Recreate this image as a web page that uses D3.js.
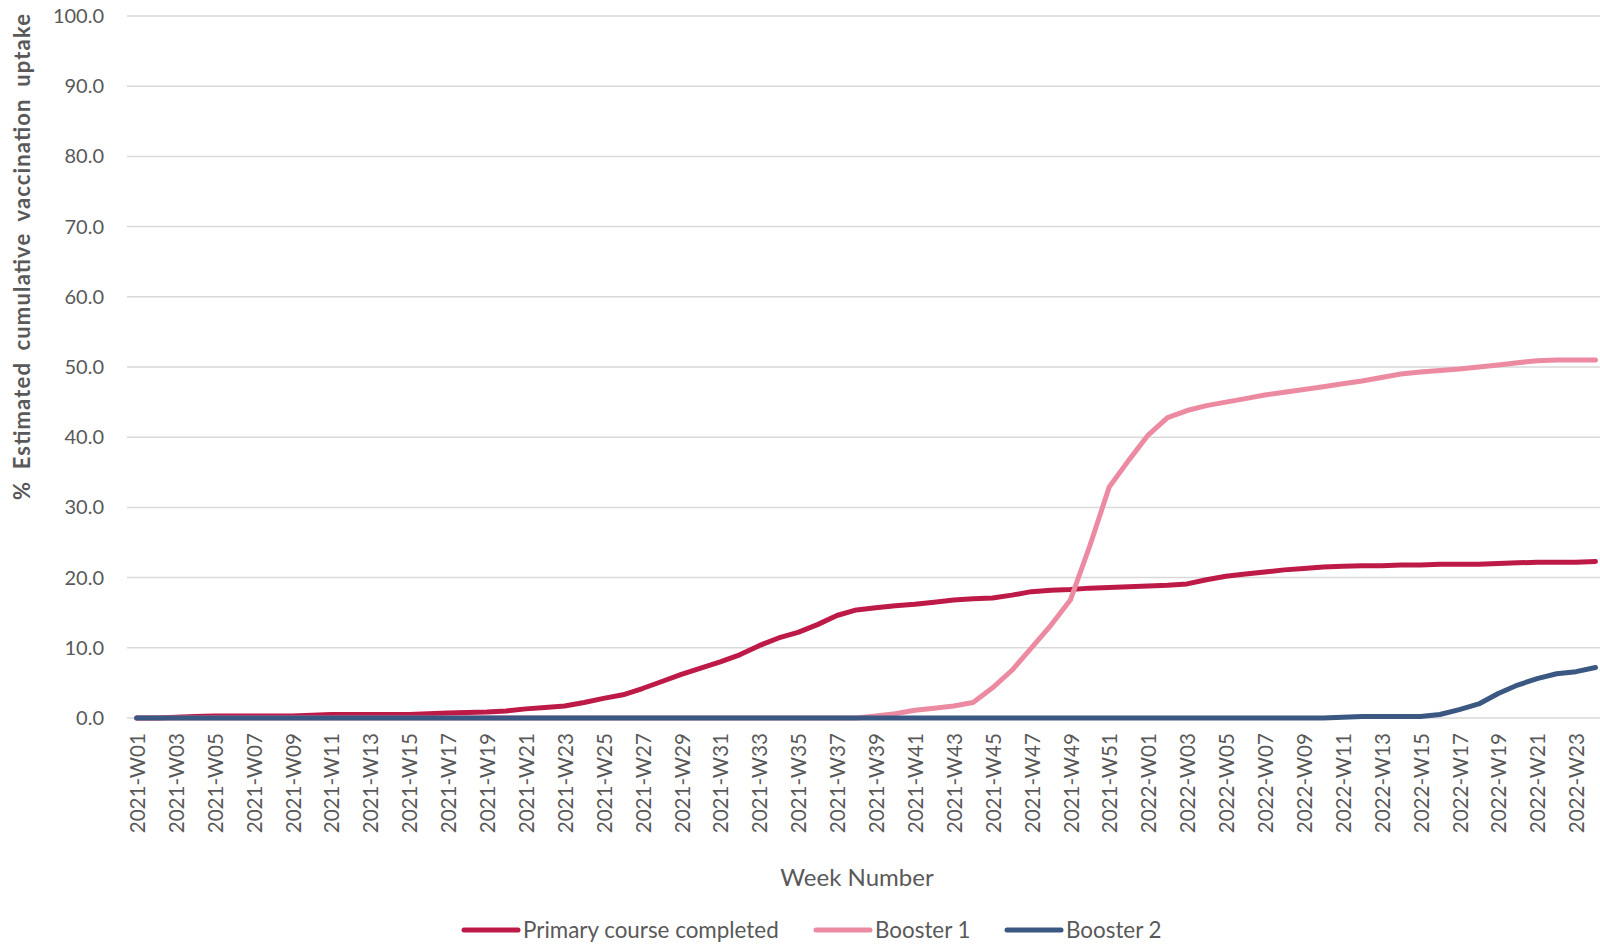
<!DOCTYPE html>
<html>
<head>
<meta charset="utf-8">
<script src="https://cdn.jsdelivr.net/npm/d3@7"></script>
<style>
body { margin: 0; background: #fff; }
text { font-family: Lato, "Open Sans", sans-serif; }
</style>
</head>
<body>
<script>
// weeks 2021-W01 .. 2022-W24
var weeks = [];
for (var w = 1; w <= 52; w++) weeks.push("2021-W" + (w < 10 ? "0" + w : w));
for (var w = 1; w <= 24; w++) weeks.push("2022-W" + (w < 10 ? "0" + w : w));

var primary = [0, 0, 0.1, 0.2, 0.3, 0.3, 0.3, 0.3, 0.3, 0.4,
  0.5, 0.5, 0.5, 0.5, 0.5, 0.6, 0.7, 0.8, 0.85, 1.0,
  1.3, 1.5, 1.7, 2.2, 2.8, 3.3, 4.2, 5.2, 6.2, 7.1,
  8.0, 9.0, 10.3, 11.4, 12.2, 13.3, 14.6, 15.4, 15.7, 16.0,
  16.2, 16.5, 16.8, 17.0, 17.1, 17.5, 18.0, 18.2, 18.3, 18.5,
  18.6, 18.7, 18.8, 18.9, 19.1, 19.7, 20.2, 20.5, 20.8, 21.1,
  21.3, 21.5, 21.6, 21.7, 21.7, 21.8, 21.8, 21.9, 21.9, 21.9,
  22.0, 22.1, 22.2, 22.2, 22.2, 22.3];

var booster1 = [0, 0, 0, 0, 0, 0, 0, 0, 0, 0,
  0, 0, 0, 0, 0, 0, 0, 0, 0, 0,
  0, 0, 0, 0, 0, 0, 0, 0, 0, 0,
  0, 0, 0, 0, 0, 0, 0, 0, 0.3, 0.6,
  1.1, 1.4, 1.7, 2.2, 4.3, 6.8, 10.0, 13.2, 16.8, 24.5,
  32.9, 36.7, 40.3, 42.8, 43.8, 44.5, 45.0, 45.5, 46.0, 46.4,
  46.8, 47.2, 47.6, 48.0, 48.5, 49.0, 49.3, 49.5, 49.7, 50.0,
  50.3, 50.6, 50.9, 51.0, 51.0, 51.0];

var booster2 = [0, 0, 0, 0, 0, 0, 0, 0, 0, 0,
  0, 0, 0, 0, 0, 0, 0, 0, 0, 0,
  0, 0, 0, 0, 0, 0, 0, 0, 0, 0,
  0, 0, 0, 0, 0, 0, 0, 0, 0, 0,
  0, 0, 0, 0, 0, 0, 0, 0, 0, 0,
  0, 0, 0, 0, 0, 0, 0, 0, 0, 0,
  0, 0, 0.1, 0.2, 0.2, 0.2, 0.2, 0.5, 1.2, 2.0,
  3.5, 4.7, 5.6, 6.3, 6.6, 7.2];

var seriesNames = ["Primary course completed", "Booster 1", "Booster 2"];
var seriesColors = ["#be1a48", "#ec8aa1", "#3b5883"];
var yTicks = [0, 10, 20, 30, 40, 50, 60, 70, 80, 90, 100];

var series = [primary, booster1, booster2];

var svg = d3.select("body").append("svg")
  .attr("width", 1600)
  .attr("height", 944);

var plotLeft = 127, plotTop = 16, plotBottom = 718;
var step = 19.45;

var xScale = d3.scaleBand().domain(weeks).range([plotLeft, plotLeft + step * weeks.length]);
var yScale = d3.scaleLinear().domain([0, 100]).range([plotBottom, plotTop]);

// gridlines
svg.append("g")
  .selectAll("line")
  .data(yTicks)
  .enter().append("line")
  .attr("x1", plotLeft).attr("x2", 1600)
  .attr("y1", function(d){ return yScale(d); })
  .attr("y2", function(d){ return yScale(d); })
  .attr("stroke", "#d9d9d9")
  .attr("stroke-width", 1.5);

// y axis labels
var yAxis = d3.axisLeft(yScale).tickValues(yTicks).tickFormat(d3.format(".1f")).tickSize(0).tickPadding(0);
var yAxisGroup = svg.append("g")
  .attr("transform", "translate(104,0)")
  .call(yAxis);
yAxisGroup.select(".domain").remove();
yAxisGroup.selectAll("text")
  .attr("fill", "#595959")
  .style("font-size", "20px");

// x axis labels, every other week
var xAxis = d3.axisBottom(xScale)
  .tickValues(weeks.filter(function(d, i){ return i % 2 == 0; }))
  .tickSize(0);
var xAxisGroup = svg.append("g")
  .attr("transform", "translate(0," + plotBottom + ")")
  .call(xAxis);
xAxisGroup.select(".domain").remove();
xAxisGroup.selectAll("text")
  .attr("fill", "#595959")
  .style("font-size", "20.6px")
  .attr("text-anchor", "end")
  .attr("transform", "rotate(-90)")
  .attr("x", -15)
  .attr("y", 1)
  .attr("dy", "0.35em");

// lines
var line = d3.line()
  .x(function(d, i){ return xScale(weeks[i]) + xScale.bandwidth() / 2; })
  .y(function(d){ return yScale(d); });

svg.append("g")
  .selectAll("path")
  .data(series)
  .enter().append("path")
  .attr("d", line)
  .attr("fill", "none")
  .attr("stroke", function(d, i){ return seriesColors[i]; })
  .attr("stroke-width", 5)
  .attr("stroke-linejoin", "round")
  .attr("stroke-linecap", "round");

// axis titles
svg.append("text")
  .attr("transform", "translate(30,257) rotate(-90)")
  .attr("text-anchor", "middle")
  .attr("fill", "#595959")
  .style("font-size", "22px")
  .style("font-weight", "bold")
  .style("word-spacing", "5px")
  .attr("textLength", 486)
  .attr("lengthAdjust", "spacing")
  .text("% Estimated cumulative vaccination uptake");

svg.append("text")
  .attr("x", 857)
  .attr("y", 886)
  .attr("text-anchor", "middle")
  .attr("fill", "#595959")
  .style("font-size", "24px")
  .text("Week Number");

// legend
var legendX = [464, 816, 1007];
var legend = svg.append("g")
  .selectAll("g")
  .data(seriesNames)
  .enter().append("g")
  .attr("transform", function(d, i){ return "translate(" + legendX[i] + ",930)"; });
legend.append("line")
  .attr("x1", 0).attr("x2", 54)
  .attr("stroke", function(d, i){ return seriesColors[i]; })
  .attr("stroke-width", 5)
  .attr("stroke-linecap", "round");
legend.append("text")
  .attr("x", 59)
  .attr("y", 8)
  .attr("fill", "#595959")
  .style("font-size", "22.4px")
  .text(function(d){ return d; });
</script>
</body>
</html>
